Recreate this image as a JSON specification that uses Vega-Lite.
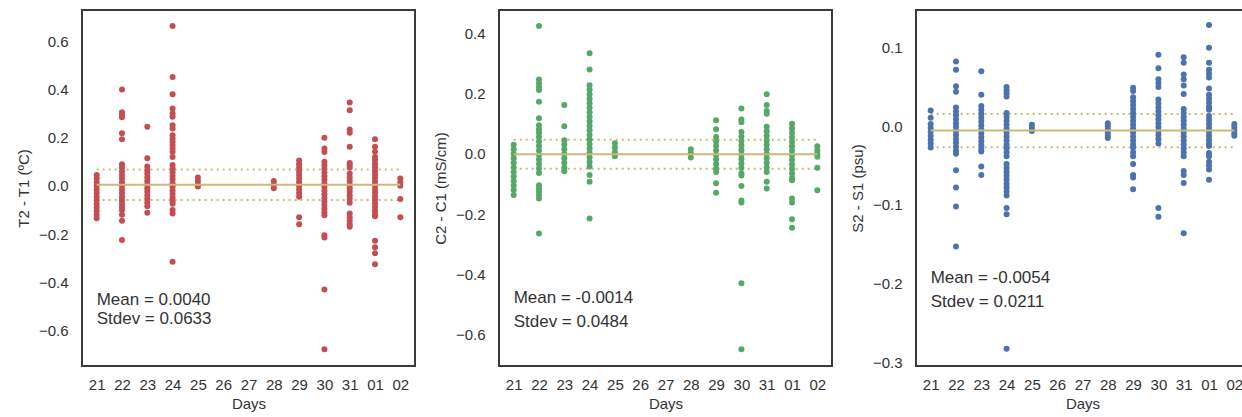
{
  "$schema": "https://vega.github.io/schema/vega-lite/v6.json",
  "background": "white",
  "padding": {"left": 15, "top": 9, "right": 0, "bottom": 0},
  "spacing": 16,
  "datasets": {
    "t": [
      {"d":"21","v":0.045},{"d":"21","v":0.03},{"d":"21","v":0.015},{"d":"21","v":0},{"d":"21","v":-0.015},{"d":"21","v":-0.03},{"d":"21","v":-0.045},{"d":"21","v":-0.06},{"d":"21","v":-0.075},{"d":"21","v":-0.09},{"d":"21","v":-0.105},{"d":"21","v":-0.12},{"d":"21","v":-0.135},
      {"d":"22","v":0.40},{"d":"22","v":0.305},{"d":"22","v":0.295},{"d":"22","v":0.285},{"d":"22","v":0.218},{"d":"22","v":0.193},{"d":"22","v":0.09},{"d":"22","v":0.075},{"d":"22","v":0.06},{"d":"22","v":0.045},{"d":"22","v":0.03},{"d":"22","v":0.015},{"d":"22","v":0},{"d":"22","v":-0.015},{"d":"22","v":-0.03},{"d":"22","v":-0.045},{"d":"22","v":-0.06},{"d":"22","v":-0.075},{"d":"22","v":-0.09},{"d":"22","v":-0.10},{"d":"22","v":-0.12},{"d":"22","v":-0.145},{"d":"22","v":-0.225},
      {"d":"23","v":0.245},{"d":"23","v":0.115},{"d":"23","v":0.08},{"d":"23","v":0.065},{"d":"23","v":0.05},{"d":"23","v":0.035},{"d":"23","v":0.02},{"d":"23","v":0.005},{"d":"23","v":-0.01},{"d":"23","v":-0.025},{"d":"23","v":-0.04},{"d":"23","v":-0.055},{"d":"23","v":-0.07},{"d":"23","v":-0.085},{"d":"23","v":-0.112},
      {"d":"24","v":0.664},{"d":"24","v":0.452},{"d":"24","v":0.38},{"d":"24","v":0.321},{"d":"24","v":0.30},{"d":"24","v":0.287},{"d":"24","v":0.252},{"d":"24","v":0.238},{"d":"24","v":0.21},{"d":"24","v":0.197},{"d":"24","v":0.183},{"d":"24","v":0.169},{"d":"24","v":0.155},{"d":"24","v":0.141},{"d":"24","v":0.12},{"d":"24","v":0.086},{"d":"24","v":0.071},{"d":"24","v":0.056},{"d":"24","v":0.041},{"d":"24","v":0.026},{"d":"24","v":0.011},{"d":"24","v":-0.004},{"d":"24","v":-0.019},{"d":"24","v":-0.034},{"d":"24","v":-0.049},{"d":"24","v":-0.064},{"d":"24","v":-0.074},{"d":"24","v":-0.10},{"d":"24","v":-0.115},{"d":"24","v":-0.315},
      {"d":"25","v":0.035},{"d":"25","v":0.02},{"d":"25","v":0.005},{"d":"25","v":-0.003},
      {"d":"28","v":0.02},{"d":"28","v":0.005},{"d":"28","v":-0.01},
      {"d":"29","v":0.105},{"d":"29","v":0.09},{"d":"29","v":0.075},{"d":"29","v":0.06},{"d":"29","v":0.045},{"d":"29","v":0.03},{"d":"29","v":0.015},{"d":"29","v":0},{"d":"29","v":-0.015},{"d":"29","v":-0.03},{"d":"29","v":-0.045},{"d":"29","v":-0.13},{"d":"29","v":-0.16},
      {"d":"30","v":0.20},{"d":"30","v":0.155},{"d":"30","v":0.14},{"d":"30","v":0.10},{"d":"30","v":0.085},{"d":"30","v":0.07},{"d":"30","v":0.055},{"d":"30","v":0.04},{"d":"30","v":0.025},{"d":"30","v":0.01},{"d":"30","v":-0.005},{"d":"30","v":-0.02},{"d":"30","v":-0.035},{"d":"30","v":-0.05},{"d":"30","v":-0.065},{"d":"30","v":-0.08},{"d":"30","v":-0.095},{"d":"30","v":-0.11},{"d":"30","v":-0.122},{"d":"30","v":-0.205},{"d":"30","v":-0.215},{"d":"30","v":-0.43},{"d":"30","v":-0.678},
      {"d":"31","v":0.346},{"d":"31","v":0.314},{"d":"31","v":0.234},{"d":"31","v":0.22},{"d":"31","v":0.162},{"d":"31","v":0.095},{"d":"31","v":0.085},{"d":"31","v":0.075},{"d":"31","v":0.05},{"d":"31","v":0.035},{"d":"31","v":0.02},{"d":"31","v":0.005},{"d":"31","v":-0.01},{"d":"31","v":-0.025},{"d":"31","v":-0.04},{"d":"31","v":-0.055},{"d":"31","v":-0.07},{"d":"31","v":-0.115},{"d":"31","v":-0.13},{"d":"31","v":-0.145},{"d":"31","v":-0.16},{"d":"31","v":-0.17},
      {"d":"01","v":0.193},{"d":"01","v":0.162},{"d":"01","v":0.141},{"d":"01","v":0.12},{"d":"01","v":0.107},{"d":"01","v":0.092},{"d":"01","v":0.077},{"d":"01","v":0.062},{"d":"01","v":0.047},{"d":"01","v":0.032},{"d":"01","v":0.017},{"d":"01","v":0.002},{"d":"01","v":-0.013},{"d":"01","v":-0.028},{"d":"01","v":-0.043},{"d":"01","v":-0.058},{"d":"01","v":-0.073},{"d":"01","v":-0.088},{"d":"01","v":-0.103},{"d":"01","v":-0.118},{"d":"01","v":-0.126},{"d":"01","v":-0.228},{"d":"01","v":-0.255},{"d":"01","v":-0.28},{"d":"01","v":-0.326},
      {"d":"02","v":0.03},{"d":"02","v":0.015},{"d":"02","v":0.0},{"d":"02","v":-0.055},{"d":"02","v":-0.13}
    ],
    "c": [
      {"d":"21","v":0.03},{"d":"21","v":0.015},{"d":"21","v":0},{"d":"21","v":-0.015},{"d":"21","v":-0.03},{"d":"21","v":-0.045},{"d":"21","v":-0.06},{"d":"21","v":-0.075},{"d":"21","v":-0.09},{"d":"21","v":-0.105},{"d":"21","v":-0.12},{"d":"21","v":-0.137},
      {"d":"22","v":0.425},{"d":"22","v":0.247},{"d":"22","v":0.235},{"d":"22","v":0.222},{"d":"22","v":0.212},{"d":"22","v":0.173},{"d":"22","v":0.118},{"d":"22","v":0.095},{"d":"22","v":0.082},{"d":"22","v":0.07},{"d":"22","v":0.056},{"d":"22","v":0.041},{"d":"22","v":0.026},{"d":"22","v":0.011},{"d":"22","v":-0.004},{"d":"22","v":-0.019},{"d":"22","v":-0.034},{"d":"22","v":-0.049},{"d":"22","v":-0.064},{"d":"22","v":-0.104},{"d":"22","v":-0.115},{"d":"22","v":-0.125},{"d":"22","v":-0.137},{"d":"22","v":-0.148},{"d":"22","v":-0.265},
      {"d":"23","v":0.162},{"d":"23","v":0.092},{"d":"23","v":0.045},{"d":"23","v":0.03},{"d":"23","v":0.015},{"d":"23","v":0},{"d":"23","v":-0.015},{"d":"23","v":-0.03},{"d":"23","v":-0.045},{"d":"23","v":-0.058},
      {"d":"24","v":0.334},{"d":"24","v":0.28},{"d":"24","v":0.228},{"d":"24","v":0.213},{"d":"24","v":0.198},{"d":"24","v":0.183},{"d":"24","v":0.168},{"d":"24","v":0.153},{"d":"24","v":0.138},{"d":"24","v":0.123},{"d":"24","v":0.108},{"d":"24","v":0.093},{"d":"24","v":0.078},{"d":"24","v":0.063},{"d":"24","v":0.048},{"d":"24","v":0.033},{"d":"24","v":0.018},{"d":"24","v":0.003},{"d":"24","v":-0.012},{"d":"24","v":-0.027},{"d":"24","v":-0.042},{"d":"24","v":-0.07},{"d":"24","v":-0.093},{"d":"24","v":-0.215},
      {"d":"25","v":0.035},{"d":"25","v":0.02},{"d":"25","v":0.005},{"d":"25","v":-0.008},
      {"d":"28","v":0.015},{"d":"28","v":0.002},{"d":"28","v":-0.012},
      {"d":"29","v":0.112},{"d":"29","v":0.082},{"d":"29","v":0.056},{"d":"29","v":0.041},{"d":"29","v":0.026},{"d":"29","v":0.011},{"d":"29","v":-0.004},{"d":"29","v":-0.019},{"d":"29","v":-0.034},{"d":"29","v":-0.049},{"d":"29","v":-0.06},{"d":"29","v":-0.098},{"d":"29","v":-0.129},
      {"d":"30","v":0.151},{"d":"30","v":0.114},{"d":"30","v":0.105},{"d":"30","v":0.073},{"d":"30","v":0.058},{"d":"30","v":0.043},{"d":"30","v":0.028},{"d":"30","v":0.013},{"d":"30","v":-0.002},{"d":"30","v":-0.017},{"d":"30","v":-0.032},{"d":"30","v":-0.047},{"d":"30","v":-0.065},{"d":"30","v":-0.072},{"d":"30","v":-0.107},{"d":"30","v":-0.155},{"d":"30","v":-0.162},{"d":"30","v":-0.43},{"d":"30","v":-0.649},
      {"d":"31","v":0.198},{"d":"31","v":0.162},{"d":"31","v":0.142},{"d":"31","v":0.133},{"d":"31","v":0.09},{"d":"31","v":0.075},{"d":"31","v":0.06},{"d":"31","v":0.045},{"d":"31","v":0.03},{"d":"31","v":0.015},{"d":"31","v":0},{"d":"31","v":-0.015},{"d":"31","v":-0.03},{"d":"31","v":-0.045},{"d":"31","v":-0.06},{"d":"31","v":-0.093},{"d":"31","v":-0.115},
      {"d":"01","v":0.10},{"d":"01","v":0.085},{"d":"01","v":0.07},{"d":"01","v":0.055},{"d":"01","v":0.04},{"d":"01","v":0.025},{"d":"01","v":0.01},{"d":"01","v":-0.005},{"d":"01","v":-0.02},{"d":"01","v":-0.035},{"d":"01","v":-0.05},{"d":"01","v":-0.065},{"d":"01","v":-0.08},{"d":"01","v":-0.088},{"d":"01","v":-0.148},{"d":"01","v":-0.162},{"d":"01","v":-0.217},{"d":"01","v":-0.246},
      {"d":"02","v":0.025},{"d":"02","v":0.012},{"d":"02","v":0.0},{"d":"02","v":-0.01},{"d":"02","v":-0.046},{"d":"02","v":-0.121}
    ],
    "s": [
      {"d":"21","v":0.02},{"d":"21","v":0.011},{"d":"21","v":0.003},{"d":"21","v":-0.002},{"d":"21","v":-0.007},{"d":"21","v":-0.012},{"d":"21","v":-0.017},{"d":"21","v":-0.022},{"d":"21","v":-0.027},
      {"d":"22","v":0.0825},{"d":"22","v":0.072},{"d":"22","v":0.051},{"d":"22","v":0.044},{"d":"22","v":0.024},{"d":"22","v":0.019},{"d":"22","v":0.014},{"d":"22","v":0.009},{"d":"22","v":0.004},{"d":"22","v":-0.001},{"d":"22","v":-0.006},{"d":"22","v":-0.011},{"d":"22","v":-0.016},{"d":"22","v":-0.021},{"d":"22","v":-0.026},{"d":"22","v":-0.031},{"d":"22","v":-0.035},{"d":"22","v":-0.056},{"d":"22","v":-0.078},{"d":"22","v":-0.102},{"d":"22","v":-0.153},
      {"d":"23","v":0.07},{"d":"23","v":0.04},{"d":"23","v":0.026},{"d":"23","v":0.021},{"d":"23","v":0.016},{"d":"23","v":0.011},{"d":"23","v":0.006},{"d":"23","v":0.001},{"d":"23","v":-0.004},{"d":"23","v":-0.009},{"d":"23","v":-0.014},{"d":"23","v":-0.019},{"d":"23","v":-0.024},{"d":"23","v":-0.029},{"d":"23","v":-0.032},{"d":"23","v":-0.051},{"d":"23","v":-0.062},
      {"d":"24","v":0.05},{"d":"24","v":0.046},{"d":"24","v":0.042},{"d":"24","v":0.038},{"d":"24","v":0.017},{"d":"24","v":0.012},{"d":"24","v":0.007},{"d":"24","v":0.002},{"d":"24","v":-0.003},{"d":"24","v":-0.008},{"d":"24","v":-0.013},{"d":"24","v":-0.018},{"d":"24","v":-0.023},{"d":"24","v":-0.028},{"d":"24","v":-0.033},{"d":"24","v":-0.038},{"d":"24","v":-0.048},{"d":"24","v":-0.053},{"d":"24","v":-0.058},{"d":"24","v":-0.063},{"d":"24","v":-0.068},{"d":"24","v":-0.073},{"d":"24","v":-0.078},{"d":"24","v":-0.083},{"d":"24","v":-0.088},{"d":"24","v":-0.104},{"d":"24","v":-0.112},{"d":"24","v":-0.283},
      {"d":"25","v":0.002},{"d":"25","v":-0.002},{"d":"25","v":-0.006},
      {"d":"28","v":0.004},{"d":"28","v":0.0},{"d":"28","v":-0.004},{"d":"28","v":-0.008},{"d":"28","v":-0.012},{"d":"28","v":-0.015},
      {"d":"29","v":0.049},{"d":"29","v":0.045},{"d":"29","v":0.037},{"d":"29","v":0.032},{"d":"29","v":0.027},{"d":"29","v":0.022},{"d":"29","v":0.017},{"d":"29","v":0.012},{"d":"29","v":0.007},{"d":"29","v":0.002},{"d":"29","v":-0.003},{"d":"29","v":-0.008},{"d":"29","v":-0.013},{"d":"29","v":-0.018},{"d":"29","v":-0.023},{"d":"29","v":-0.027},{"d":"29","v":-0.033},{"d":"29","v":-0.038},{"d":"29","v":-0.048},{"d":"29","v":-0.062},{"d":"29","v":-0.065},{"d":"29","v":-0.08},
      {"d":"30","v":0.091},{"d":"30","v":0.074},{"d":"30","v":0.06},{"d":"30","v":0.055},{"d":"30","v":0.05},{"d":"30","v":0.034},{"d":"30","v":0.029},{"d":"30","v":0.024},{"d":"30","v":0.019},{"d":"30","v":0.014},{"d":"30","v":0.009},{"d":"30","v":0.004},{"d":"30","v":-0.001},{"d":"30","v":-0.006},{"d":"30","v":-0.011},{"d":"30","v":-0.016},{"d":"30","v":-0.022},{"d":"30","v":-0.104},{"d":"30","v":-0.115},
      {"d":"31","v":0.088},{"d":"31","v":0.081},{"d":"31","v":0.066},{"d":"31","v":0.06},{"d":"31","v":0.052},{"d":"31","v":0.041},{"d":"31","v":0.022},{"d":"31","v":0.017},{"d":"31","v":0.012},{"d":"31","v":0.007},{"d":"31","v":0.002},{"d":"31","v":-0.003},{"d":"31","v":-0.008},{"d":"31","v":-0.013},{"d":"31","v":-0.018},{"d":"31","v":-0.023},{"d":"31","v":-0.028},{"d":"31","v":-0.033},{"d":"31","v":-0.038},{"d":"31","v":-0.057},{"d":"31","v":-0.062},{"d":"31","v":-0.072},{"d":"31","v":-0.136},
      {"d":"01","v":0.129},{"d":"01","v":0.1},{"d":"01","v":0.081},{"d":"01","v":0.072},{"d":"01","v":0.067},{"d":"01","v":0.062},{"d":"01","v":0.048},{"d":"01","v":0.04},{"d":"01","v":0.035},{"d":"01","v":0.03},{"d":"01","v":0.025},{"d":"01","v":0.021},{"d":"01","v":0.013},{"d":"01","v":0.008},{"d":"01","v":0.003},{"d":"01","v":-0.002},{"d":"01","v":-0.007},{"d":"01","v":-0.012},{"d":"01","v":-0.017},{"d":"01","v":-0.022},{"d":"01","v":-0.025},{"d":"01","v":-0.034},{"d":"01","v":-0.038},{"d":"01","v":-0.045},{"d":"01","v":-0.05},{"d":"01","v":-0.055},{"d":"01","v":-0.068},
      {"d":"02","v":0.003},{"d":"02","v":-0.001},{"d":"02","v":-0.005},{"d":"02","v":-0.009},{"d":"02","v":-0.012}
    ],
    "lines": [
      {"p":"t","k":"mean","d":"21","d2":"02","v":0.004},
      {"p":"t","k":"sd","d":"21","d2":"02","v":0.0673},
      {"p":"t","k":"sd","d":"21","d2":"02","v":-0.0593},
      {"p":"c","k":"mean","d":"21","d2":"02","v":-0.0014},
      {"p":"c","k":"sd","d":"21","d2":"02","v":0.047},
      {"p":"c","k":"sd","d":"21","d2":"02","v":-0.0498},
      {"p":"s","k":"mean","d":"21","d2":"02","v":-0.0054},
      {"p":"s","k":"sd","d":"21","d2":"02","v":0.0157},
      {"p":"s","k":"sd","d":"21","d2":"02","v":-0.0265}
    ],
    "notes": [
      {"p":"t","d":"21","v":-0.474,"label":"Mean = 0.0040"},
      {"p":"t","d":"21","v":-0.554,"label":"Stdev = 0.0633"},
      {"p":"c","d":"21","v":-0.478,"label":"Mean = -0.0014"},
      {"p":"c","d":"21","v":-0.559,"label":"Stdev = 0.0484"},
      {"p":"s","d":"21","v":-0.193,"label":"Mean = -0.0054"},
      {"p":"s","d":"21","v":-0.223,"label":"Stdev = 0.0211"}
    ]
  },
  "hconcat": [
    {
      "width": 333, "height": 356,
      "encoding": {
        "x": {"field": "d", "type": "ordinal", "title": "Days",
              "scale": {"type": "point", "padding": 0.58, "domain": ["21","22","23","24","25","26","27","28","29","30","31","01","02"]}},
        "y": {"field": "v", "type": "quantitative", "title": "T2 - T1 (ºC)",
              "scale": {"domain": [-0.748, 0.730], "nice": false, "zero": false},
              "axis": {"values": [-0.6,-0.4,-0.2,0,0.2,0.4,0.6], "format": ".1f"}}
      },
      "layer": [
        {"data": {"name": "lines"}, "transform": [{"filter": "datum.p === 't' && datum.k === 'sd'"}],
         "mark": {"type": "rule", "color": "#ccb974", "strokeWidth": 2, "strokeDash": [2, 4]},
         "encoding": {"x2": {"field": "d2"}}},
        {"data": {"name": "t"}, "mark": {"type": "circle", "size": 36, "opacity": 1, "color": "#c44e52"}},
        {"data": {"name": "lines"}, "transform": [{"filter": "datum.p === 't' && datum.k === 'mean'"}],
         "mark": {"type": "rule", "color": "#ccb974", "strokeWidth": 2},
         "encoding": {"x2": {"field": "d2"}}},
        {"data": {"name": "notes"}, "transform": [{"filter": "datum.p === 't'"}],
         "mark": {"type": "text", "align": "left", "baseline": "middle", "fontSize": 17, "font": "Liberation Sans", "color": "#333"},
         "encoding": {"text": {"field": "label"}}}
      ]
    },
    {
      "width": 333, "height": 356,
      "encoding": {
        "x": {"field": "d", "type": "ordinal", "title": "Days",
              "scale": {"type": "point", "padding": 0.58, "domain": ["21","22","23","24","25","26","27","28","29","30","31","01","02"]}},
        "y": {"field": "v", "type": "quantitative", "title": "C2 - C1 (mS/cm)",
              "scale": {"domain": [-0.705, 0.478], "nice": false, "zero": false},
              "axis": {"values": [-0.6,-0.4,-0.2,0,0.2,0.4], "format": ".1f"}}
      },
      "layer": [
        {"data": {"name": "lines"}, "transform": [{"filter": "datum.p === 'c' && datum.k === 'sd'"}],
         "mark": {"type": "rule", "color": "#ccb974", "strokeWidth": 2, "strokeDash": [2, 4]},
         "encoding": {"x2": {"field": "d2"}}},
        {"data": {"name": "c"}, "mark": {"type": "circle", "size": 36, "opacity": 1, "color": "#55a868"}},
        {"data": {"name": "lines"}, "transform": [{"filter": "datum.p === 'c' && datum.k === 'mean'"}],
         "mark": {"type": "rule", "color": "#ccb974", "strokeWidth": 2},
         "encoding": {"x2": {"field": "d2"}}},
        {"data": {"name": "notes"}, "transform": [{"filter": "datum.p === 'c'"}],
         "mark": {"type": "text", "align": "left", "baseline": "middle", "fontSize": 17, "font": "Liberation Sans", "color": "#333"},
         "encoding": {"text": {"field": "label"}}}
      ]
    },
    {
      "width": 333, "height": 356,
      "encoding": {
        "x": {"field": "d", "type": "ordinal", "title": "Days",
              "scale": {"type": "point", "padding": 0.58, "domain": ["21","22","23","24","25","26","27","28","29","30","31","01","02"]}},
        "y": {"field": "v", "type": "quantitative", "title": "S2 - S1 (psu)",
              "scale": {"domain": [-0.305, 0.148], "nice": false, "zero": false},
              "axis": {"values": [-0.3,-0.2,-0.1,0,0.1], "format": ".1f"}}
      },
      "layer": [
        {"data": {"name": "lines"}, "transform": [{"filter": "datum.p === 's' && datum.k === 'sd'"}],
         "mark": {"type": "rule", "color": "#ccb974", "strokeWidth": 2, "strokeDash": [2, 4]},
         "encoding": {"x2": {"field": "d2"}}},
        {"data": {"name": "s"}, "mark": {"type": "circle", "size": 36, "opacity": 1, "color": "#4c72b0"}},
        {"data": {"name": "lines"}, "transform": [{"filter": "datum.p === 's' && datum.k === 'mean'"}],
         "mark": {"type": "rule", "color": "#ccb974", "strokeWidth": 2},
         "encoding": {"x2": {"field": "d2"}}},
        {"data": {"name": "notes"}, "transform": [{"filter": "datum.p === 's'"}],
         "mark": {"type": "text", "align": "left", "baseline": "middle", "fontSize": 17, "font": "Liberation Sans", "color": "#333"},
         "encoding": {"text": {"field": "label"}}}
      ]
    }
  ],
  "config": {
    "view": {"stroke": "#3a3a3a", "strokeWidth": 2},
    "axis": {
      "ticks": false, "tickSize": 0, "domain": false, "grid": false,
      "labelFont": "Liberation Sans", "titleFont": "Liberation Sans",
      "labelFontSize": 15, "titleFontSize": 15, "labelColor": "#333", "titleColor": "#333",
      "titleFontWeight": "normal"
    },
    "axisY": {"labelPadding": 14, "minExtent": 45, "maxExtent": 45, "titlePadding": 6},
    "axisX": {"labelAngle": 0, "labelPadding": 11, "titlePadding": 4}
  }
}
